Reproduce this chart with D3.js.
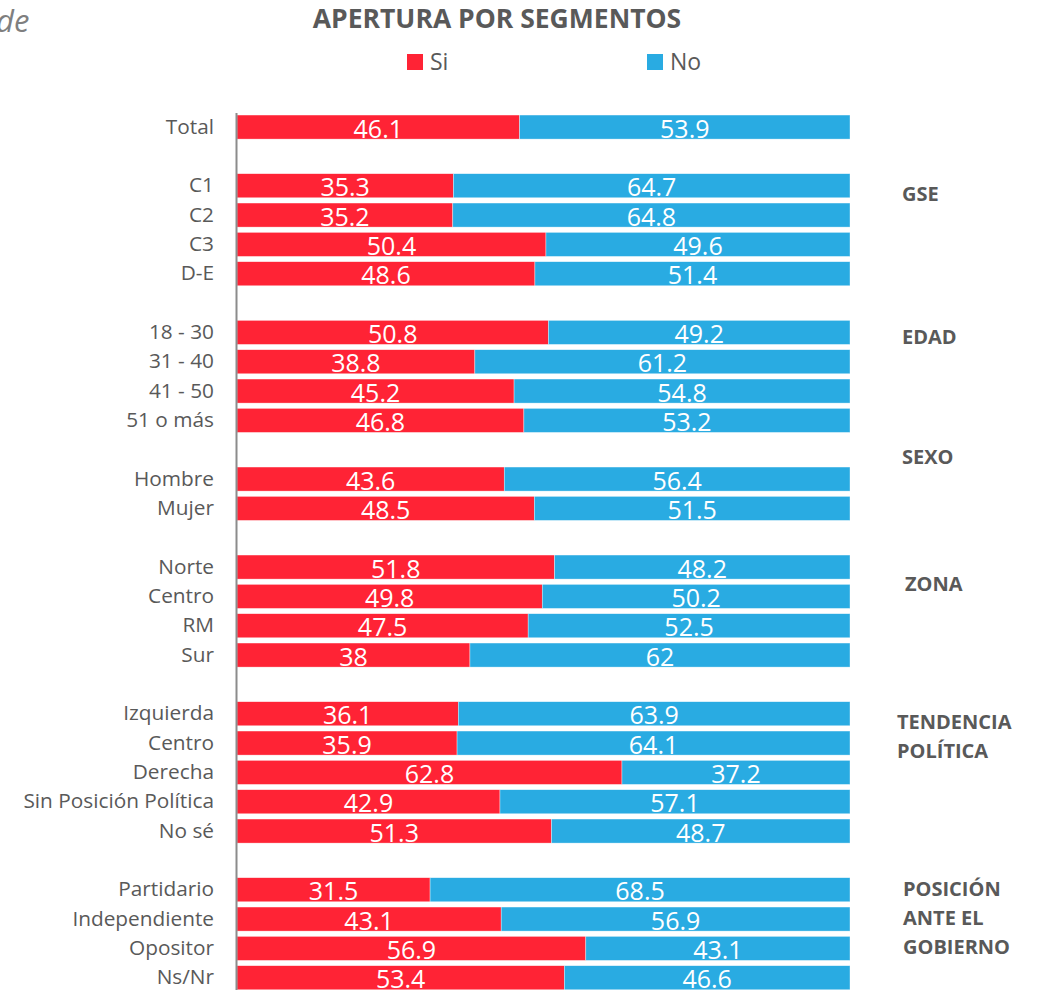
<!DOCTYPE html>
<html>
<head>
<meta charset="utf-8">
<script src="https://cdn.jsdelivr.net/npm/d3@7"></script>
<style>
  html, body { margin: 0; padding: 0; background: #fff; }
  svg { display: block; }
  text { font-family: "Open Sans", "Noto Sans", sans-serif; }
</style>
</head>
<body>
<svg id="chart" width="1038" height="990"></svg>
<script>
// Rows of the chart; empty strings are spacer rows between segment groups
const categories = [
  "Total", "",
  "C1", "C2", "C3", "D-E", "",
  "18 - 30", "31 - 40", "41 - 50", "51 o más", "",
  "Hombre", "Mujer", "",
  "Norte", "Centro", "RM", "Sur", "",
  "Izquierda", "Centro", "Derecha", "Sin Posición Política", "No sé", "",
  "Partidario", "Independiente", "Opositor", "Ns/Nr"
];
const siValues = [
  46.1, null,
  35.3, 35.2, 50.4, 48.6, null,
  50.8, 38.8, 45.2, 46.8, null,
  43.6, 48.5, null,
  51.8, 49.8, 47.5, 38, null,
  36.1, 35.9, 62.8, 42.9, 51.3, null,
  31.5, 43.1, 56.9, 53.4
];
const noValues = [
  53.9, null,
  64.7, 64.8, 49.6, 51.4, null,
  49.2, 61.2, 54.8, 53.2, null,
  56.4, 51.5, null,
  48.2, 50.2, 52.5, 62, null,
  63.9, 64.1, 37.2, 57.1, 48.7, null,
  68.5, 56.9, 43.1, 46.6
];
const seriesNames = ["Si", "No"];
const groupLabels = [
  ["GSE"],
  ["EDAD"],
  ["SEXO"],
  ["ZONA"],
  ["TENDENCIA", "POLÍTICA"],
  ["POSICIÓN", "ANTE EL", "GOBIERNO"]
];
const titleText = "APERTURA POR SEGMENTOS";

// Styling / layout
const colors = { Si: "#FF2335", No: "#29ABE2" };
const textGray = "#595959";
// Vertical placement of each group label (in row units, centre of first line) and its left edge
const groupLayout = [
  { row: 2.27, x: 902 },
  { row: 7.13, x: 902 },
  { row: 11.22, x: 902 },
  { row: 15.55, x: 905 },
  { row: 20.25, x: 897 },
  { row: 25.95, x: 903 }
];

const svg = d3.select("#chart");

const rows = categories.map((c, i) => ({ i, label: c, si: siValues[i], no: noValues[i] }));

const x = d3.scaleLinear().domain([0, 100]).range([237, 850]);
const y = d3.scaleBand()
  .domain(rows.map(d => d.i))
  .range([112.4, 992.4])
  .paddingInner(0.18)
  .paddingOuter(0.09);

const dataRows = rows.filter(d => d.si !== null);
const stack = d3.stack().keys(["si", "no"])(dataRows);

// Stacked bars
const layers = svg.append("g").selectAll("g")
  .data(stack)
  .join("g")
  .attr("fill", (s, k) => colors[seriesNames[k]]);

layers.selectAll("rect")
  .data(s => s)
  .join("rect")
  .attr("x", d => x(d[0]))
  .attr("y", d => y(d.data.i))
  .attr("width", d => x(d[1]) - x(d[0]))
  .attr("height", y.bandwidth())
  .attr("stroke", "#ffffff")
  .attr("stroke-opacity", 0.6)
  .attr("stroke-width", 0.6);

// Value labels centred in each segment
layers.selectAll("text")
  .data(s => s)
  .join("text")
  .attr("x", d => (x(d[0]) + x(d[1])) / 2)
  .attr("y", d => y(d.data.i) + y.bandwidth() - 1.5)
  .attr("text-anchor", "middle")
  .attr("fill", "#ffffff")
  .attr("font-size", 25)
  .text(d => d3.format("~g")(+(d[1] - d[0]).toFixed(1)));

// Category axis (line only, labels on the left)
const axis = d3.axisLeft(y)
  .tickSize(0)
  .tickPadding(22)
  .tickFormat(i => categories[i]);

const axisG = svg.append("g")
  .attr("transform", `translate(${x(0) - 1},0)`)
  .call(axis);
axisG.select(".domain").attr("stroke", "#8c8c8c").attr("stroke-width", 2);
axisG.selectAll("text")
  .attr("fill", textGray)
  .attr("font-size", 20.8)
  .attr("font-family", "'Open Sans', sans-serif");

// Group labels on the right
groupLabels.forEach((lines, g) => {
  const lay = groupLayout[g];
  const yc = y(0) + y.bandwidth() / 2 + lay.row * y.step();
  svg.append("text")
    .attr("x", lay.x)
    .attr("y", yc + 7.5)
    .attr("fill", textGray)
    .attr("font-weight", "bold")
    .attr("font-size", 20)
    .selectAll("tspan")
    .data(lines)
    .join("tspan")
    .attr("x", lay.x)
    .attr("dy", (d, k) => k === 0 ? 0 : 29.3)
    .text(d => d);
});

// Title
svg.append("text")
  .attr("x", 497)
  .attr("y", 28)
  .attr("text-anchor", "middle")
  .attr("fill", textGray)
  .attr("font-weight", "bold")
  .attr("font-size", 26.5)
  .text(titleText);

// Legend
const legendX = [407, 647];
const legend = svg.append("g").selectAll("g")
  .data(seriesNames)
  .join("g")
  .attr("transform", (d, k) => `translate(${legendX[k]},54)`);
legend.append("rect")
  .attr("width", 16).attr("height", 16)
  .attr("fill", d => colors[d]);
legend.append("text")
  .attr("x", 23).attr("y", 16)
  .attr("fill", textGray)
  .attr("font-size", 23)
  .text(d => d);

// Fragment of a preceding heading at the top-left edge
svg.append("text")
  .attr("x", -4)
  .attr("y", 32)
  .attr("fill", "#7f7f7f")
  .attr("font-style", "italic")
  .attr("font-size", 31)
  .text("de");
</script>
</body>
</html>
